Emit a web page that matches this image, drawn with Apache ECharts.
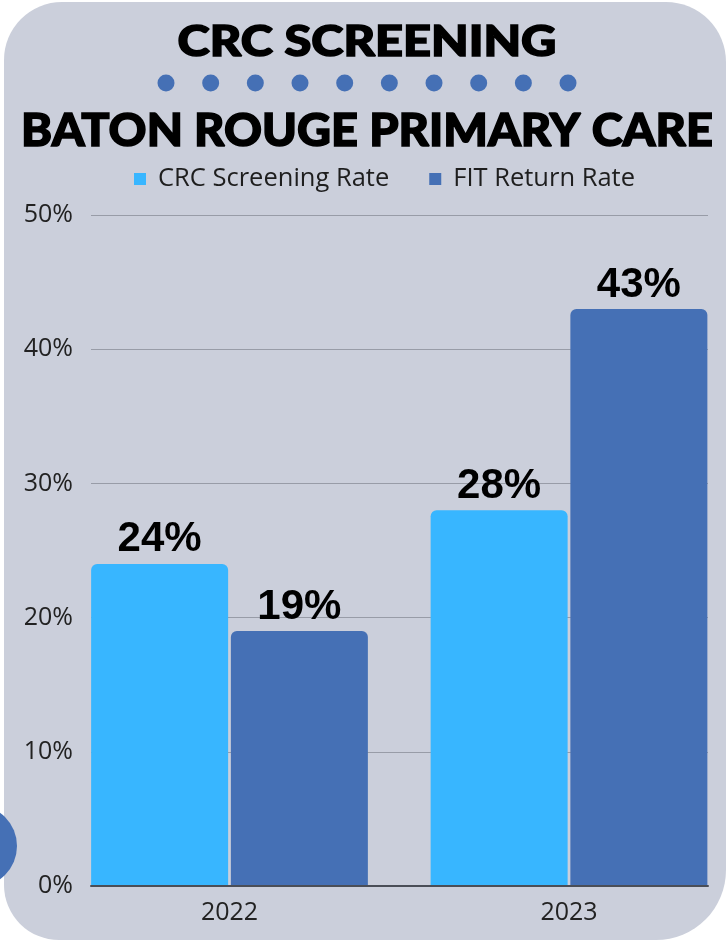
<!DOCTYPE html>
<html>
<head>
<meta charset="utf-8">
<script src="https://cdn.jsdelivr.net/npm/echarts@6/dist/echarts.min.js"></script>
<style>
html,body{margin:0;padding:0;background:#ffffff;}
#chart{width:726px;height:941px;}
</style>
</head>
<body>
<div id="chart"></div>
<script>
const categories = ['2022', '2023'];
const crcScreeningRate = [24, 28];
const fitReturnRate = [19, 43];
const seriesNames = ['CRC Screening Rate', 'FIT Return Rate'];
const titleLine1 = 'CRC SCREENING';
const titleLine2 = 'BATON ROUGE PRIMARY CARE';

const chart = echarts.init(document.getElementById('chart'), null, {renderer: 'canvas'});

const dots = [];
for (let i = 0; i < 10; i++) {
  dots.push({
    type: 'circle',
    shape: {cx: 166 + i * 44.67, cy: 83, r: 8.5},
    style: {fill: '#4570b5'},
    z: 10
  });
}

const labelStyle = {
  show: true,
  position: 'top',
  distance: 3,
  formatter: '{c}%',
  fontFamily: 'Liberation Sans',
  fontWeight: 'bold',
  fontSize: 42,
  color: '#000000'
};

const option = {
  backgroundColor: '#ffffff',
  animation: false,
  graphic: [
    {
      type: 'rect',
      shape: {x: 4, y: 2, width: 722, height: 938, r: [58, 60, 70, 55]},
      style: {fill: '#cbcfdb'},
      z: -10
    },
    {
      type: 'circle',
      shape: {cx: -24, cy: 846, r: 41},
      style: {fill: '#4570b5'},
      z: 10
    },
    {
      type: 'text',
      x: 367, y: 42,
      scaleX: 1.16,
      style: {
        text: titleLine1,
        fontFamily: 'Lato',
        fontWeight: 900,
        fontSize: 42,
        fill: '#000000',
        stroke: '#000000',
        lineWidth: 1.5,
        align: 'center',
        verticalAlign: 'middle'
      },
      z: 10
    },
    {
      type: 'text',
      x: 367, y: 131,
      scaleX: 1.02,
      style: {
        text: titleLine2,
        fontFamily: 'Lato',
        fontWeight: 900,
        fontSize: 46,
        fill: '#000000',
        stroke: '#000000',
        lineWidth: 1.5,
        align: 'center',
        verticalAlign: 'middle'
      },
      z: 10
    }
  ].concat(dots),
  legend: {
    data: seriesNames,
    left: 129,
    top: 161,
    icon: 'rect',
    itemWidth: 12,
    itemHeight: 12,
    itemGap: 40,
    textStyle: {fontFamily: 'Open Sans', fontSize: 25.5, color: '#1e1e1e', padding: [0, 0, 0, 7]}
  },
  grid: [
    {left: 229.5, right: 157, top: 215, bottom: 55},
    {left: 91, right: 18, top: 215, bottom: 55}
  ],
  xAxis: [
    {
      type: 'category',
      gridIndex: 0,
      data: categories,
      boundaryGap: false,
      axisLine: {show: false},
      axisTick: {show: false},
      axisLabel: {fontFamily: 'Open Sans', fontSize: 25, color: '#222222', margin: 14}
    },
    {
      type: 'category',
      gridIndex: 1,
      data: categories,
      axisLine: {show: true, lineStyle: {color: '#4a4e57', width: 2}},
      axisTick: {show: false},
      axisLabel: {show: false},
      z: 5
    }
  ],
  yAxis: [
    {
      type: 'value',
      gridIndex: 0,
      min: 0, max: 50, interval: 10,
      show: false,
      splitLine: {show: false}
    },
    {
      type: 'value',
      gridIndex: 1,
      min: 0, max: 50, interval: 10,
      axisLine: {show: false},
      axisTick: {show: false},
      axisLabel: {formatter: '{value}%', fontFamily: 'Open Sans', fontSize: 25, color: '#222222', margin: 18},
      splitLine: {show: true, lineStyle: {color: '#989ca7', width: 1.2}}
    }
  ],
  series: [
    {
      name: seriesNames[0],
      type: 'bar',
      xAxisIndex: 0,
      yAxisIndex: 0,
      data: crcScreeningRate,
      barWidth: 137,
      barGap: '2%',
      clip: false,
      itemStyle: {color: '#38b6ff', borderRadius: [6, 6, 0, 0]},
      label: labelStyle,
      z: 3
    },
    {
      name: seriesNames[1],
      type: 'bar',
      xAxisIndex: 0,
      yAxisIndex: 0,
      data: fitReturnRate,
      barWidth: 137,
      barGap: '2%',
      clip: false,
      itemStyle: {color: '#4570b5', borderRadius: [6, 6, 0, 0]},
      label: labelStyle,
      z: 3
    }
  ]
};
chart.setOption(option);
</script>
</body>
</html>
